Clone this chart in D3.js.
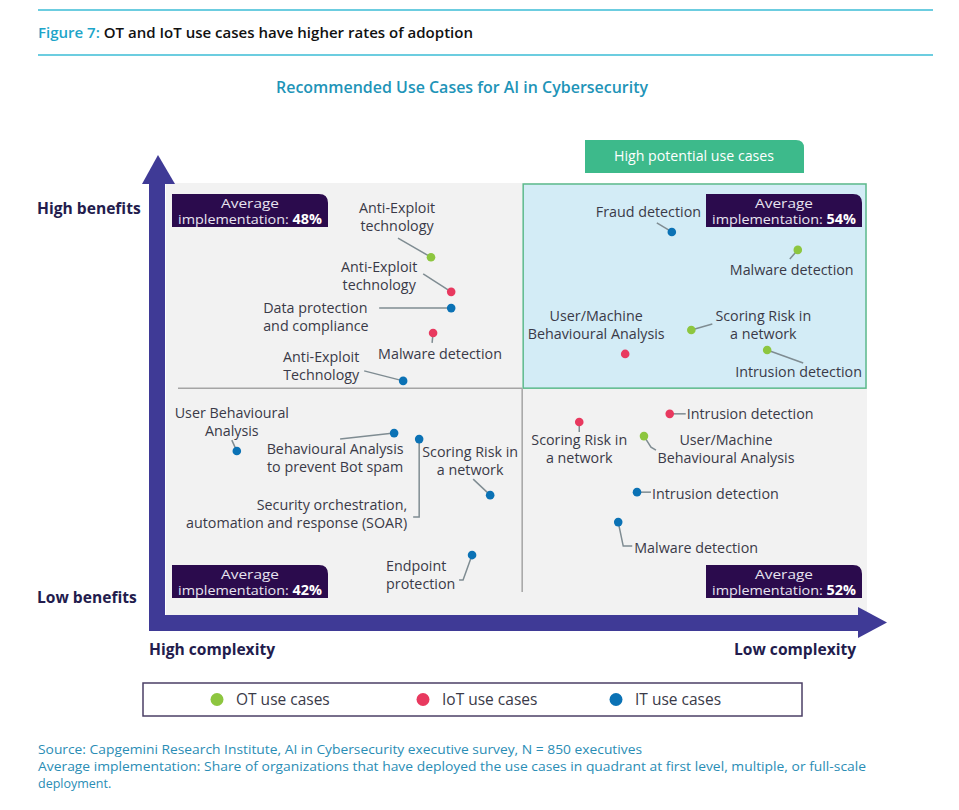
<!DOCTYPE html>
<html><head><meta charset="utf-8">
<script src="https://cdn.jsdelivr.net/npm/d3@7/dist/d3.min.js"></script>
<style>
html,body{margin:0;padding:0;background:#fff;}
svg{display:block;}
text{font-family:"Open Sans","Noto Sans",sans-serif;}
</style></head>
<body>
<svg id="chart" width="959" height="810"></svg>
<script>
// ---------- DATA ----------
const names = [
  "Anti-Exploit\ntechnology", "Anti-Exploit\ntechnology", "Data protection\nand compliance",
  "Malware detection", "Anti-Exploit\nTechnology",
  "Fraud detection", "Malware detection", "Scoring Risk in\na network",
  "User/Machine\nBehavioural Analysis", "Intrusion detection",
  "User Behavioural\nAnalysis", "Behavioural Analysis\nto prevent Bot spam",
  "Security orchestration,\nautomation and response (SOAR)", "Scoring Risk in\na network",
  "Endpoint\nprotection",
  "Intrusion detection", "Scoring Risk in\na network", "User/Machine\nBehavioural Analysis",
  "Intrusion detection", "Malware detection"
];
const types = ["OT","IoT","IT","IoT","IT", "IT","OT","OT","IoT","OT", "IT","IT","IT","IT","IT", "IoT","IoT","OT","IT","IT"];
// complexity axis: 0 = high complexity, 100 = low complexity
const complexity = [37.5,40.4,40.4,37.8,33.5, 72.1,90.2,74.9,65.4,85.8, 9.6,32.2,35.8,46.0,43.4, 71.8,58.8,68.1,67.1,64.4];
// benefits axis: 0 = low benefits, 100 = high benefits
const benefits   = [82.9,74.8,71.0,65.2,54.0, 88.8,84.6,65.9,60.3,61.2, 37.6,41.8,40.4,27.3,13.3, 46.3,44.4,41.1,28.0,21.0];
const quadrantNames = ["TL","TR","BL","BR"];
const quadrantAvg = [48, 54, 42, 52];
const legendKeys = ["OT","IoT","IT"];
const legendLabels = ["OT use cases","IoT use cases","IT use cases"];

// ---------- LAYOUT (annotation placement, not data) ----------
const labelLayout = [
  {a:"middle", dx:-34, dy:-44, lead:[[0,0],[-33,-19]]},
  {a:"middle", dx:-72, dy:-20, lead:[[0,0],[-28,-18]]},
  {a:"start",  dx:-188,dy:5,   lead:[[0,0],[-72,0]]},
  {a:"start",  dx:-55, dy:26,  lead:[[0,0],[-1,10]]},
  {a:"middle", dx:-82, dy:-19, lead:[[0,0],[-39,-10]]},
  {a:"start",  dx:-76, dy:-15, lead:[[0,0],[-15,-9]]},
  {a:"start",  dx:-68, dy:25,  lead:[[0,0],[-8,9]]},
  {a:"middle", dx:72,  dy:-9,  lead:[[0,0],[21,-6]]},
  {a:"middle", dx:-29, dy:-33, lead:null},
  {a:"start",  dx:-32, dy:27,  lead:[[0,0],[36,13]]},
  {a:"middle", dx:-5,  dy:-33, lead:[[0,0],[-5,-11]]},
  {a:"middle", dx:-59, dy:21,  lead:[[0,0],[-54,6]]},
  {a:"end",    dx:-12, dy:71,  lead:[[0,0],[0,78],[-6,78]]},
  {a:"middle", dx:-20, dy:-38, lead:[[0,0],[-17,-16]]},
  {a:"start",  dx:-86, dy:16,  lead:[[0,0],[-9,25],[-13,25]]},
  {a:"start",  dx:17,  dy:5,   lead:[[0,0],[16,0]]},
  {a:"middle", dx:0,   dy:23,  lead:[[0,0],[0,10]]},
  {a:"middle", dx:82,  dy:9,   lead:[[0,0],[7,11],[12,14]]},
  {a:"start",  dx:15,  dy:7,   lead:[[0,0],[14,0]]},
  {a:"start",  dx:16,  dy:31,  lead:[[0,0],[5,24],[14,24]]}
];

const color = d3.scaleOrdinal().domain(legendKeys).range(["#8dc63f","#e8395f","#0b72b5"]);
const purple = "#3f3a96";
const teal = "#1e94b8";

const svg = d3.select("#chart");
const x = d3.scaleLinear().domain([0,100]).range([170,866]);
const y = d3.scaleLinear().domain([0,100]).range([612,184]);
const xSplit = 50.6, ySplit = 52.3;

// header lines
svg.append("line").attr("x1",38).attr("x2",933).attr("y1",10).attr("y2",10).attr("stroke","#3bbdd6").attr("stroke-width",1.5);
svg.append("line").attr("x1",38).attr("x2",933).attr("y1",55).attr("y2",55).attr("stroke","#3bbdd6").attr("stroke-width",1.5);
const ft = svg.append("text").attr("x",38).attr("y",38).attr("font-size",14).attr("font-weight",600)
  .attr("textLength",435).attr("lengthAdjust","spacingAndGlyphs");
ft.append("tspan").attr("fill","#1da5c9").text("Figure 7: ");
ft.append("tspan").attr("fill","#111").text("OT and IoT use cases have higher rates of adoption");

svg.append("text").attr("x",462).attr("y",93).attr("text-anchor","middle").attr("font-size",15.5).attr("font-weight",600)
  .attr("fill",teal).attr("textLength",372).attr("lengthAdjust","spacingAndGlyphs")
  .text("Recommended Use Cases for AI in Cybersecurity");

// background
svg.append("rect").attr("x",166).attr("y",183).attr("width",701).attr("height",432).attr("fill","#f2f2f2");
// highlighted quadrant
svg.append("rect").attr("x",x(xSplit)+1).attr("y",y(100)).attr("width",x(100)-x(xSplit)-1).attr("height",y(ySplit)-y(100))
  .attr("fill","#d3ecf6").attr("stroke","#5cba8c").attr("stroke-width",1.5);
// dividers
svg.append("line").attr("x1",178).attr("x2",x(xSplit)).attr("y1",y(ySplit)).attr("y2",y(ySplit)).attr("stroke","#a5a5a5").attr("stroke-width",1.5);
svg.append("line").attr("x1",x(xSplit)).attr("x2",x(xSplit)).attr("y1",y(ySplit)).attr("y2",592).attr("stroke","#a5a5a5").attr("stroke-width",1.5);

// high potential tag
svg.append("path").attr("d",`M585,140 H796 Q804,140 804,148 V173 H585 Z`).attr("fill","#3dba8b");
svg.append("text").attr("x",694).attr("y",161).attr("text-anchor","middle").attr("fill","#fff").attr("font-size",14.2)
  .text("High potential use cases");

// arrows
svg.append("rect").attr("x",149).attr("y",180).attr("width",16).attr("height",451).attr("fill",purple);
svg.append("path").attr("d","M142,184 L158,155 L175,184 Z").attr("fill",purple);
svg.append("rect").attr("x",149).attr("y",615).attr("width",712).attr("height",16).attr("fill",purple);
svg.append("path").attr("d","M858,607 L887,622.5 L858,638 Z").attr("fill",purple);

// axis labels
const axisLab = [
  {t:"High benefits", x:37, y:214},
  {t:"Low benefits", x:37, y:603},
  {t:"High complexity", x:149, y:655},
  {t:"Low complexity", x:734, y:655}
];
svg.selectAll(".axlab").data(axisLab).join("text").attr("class","axlab")
  .attr("x",d=>d.x).attr("y",d=>d.y).attr("font-size",15.6).attr("font-weight",700).attr("fill","#231c4d").text(d=>d.t);

// average boxes
const boxPos = {TL:[172,194], TR:[706,194], BL:[172,565], BR:[706,565]};
quadrantNames.forEach((q,i)=>{
  const [bx,by] = boxPos[q];
  const w=156,h=33,r=9;
  svg.append("path").attr("d",`M${bx},${by} H${bx+w-r} Q${bx+w},${by} ${bx+w},${by+r} V${by+h} H${bx} Z`).attr("fill","#2b0b4d");
  const t = svg.append("text").attr("text-anchor","middle").attr("fill","#e8e4f0").attr("font-size",13.5);
  t.append("tspan").attr("x",bx+w/2).attr("y",by+13.5).attr("textLength",58).attr("lengthAdjust","spacingAndGlyphs").text("Average");
  const t2 = svg.append("text").attr("x",bx+w/2).attr("y",by+29.5).attr("text-anchor","middle").attr("fill","#e8e4f0").attr("font-size",13.5)
    .attr("textLength",144).attr("lengthAdjust","spacingAndGlyphs");
  t2.append("tspan").text("implementation: ");
  t2.append("tspan").attr("font-weight",700).attr("fill","#fff").text(quadrantAvg[i]+"%");
});

// points
const pts = names.map((n,i)=>({name:n,type:types[i],cx:x(complexity[i]),cy:y(benefits[i]),L:labelLayout[i]}));
const g = svg.append("g");
// leaders
g.selectAll(".lead").data(pts.filter(d=>d.L.lead)).join("path").attr("class","lead")
  .attr("d",d=>d3.line()(d.L.lead.map(p=>[d.cx+p[0],d.cy+p[1]])))
  .attr("fill","none").attr("stroke","#7f8c92").attr("stroke-width",1.5);
// dots
g.selectAll(".dot").data(pts).join("circle").attr("class","dot")
  .attr("cx",d=>d.cx).attr("cy",d=>d.cy).attr("r",4.3).attr("fill",d=>color(d.type));
// labels
g.selectAll(".lab").data(pts).join("text").attr("class","lab")
  .attr("text-anchor",d=>d.L.a).attr("font-size",14.3).attr("fill","#3a3a48")
  .each(function(d){
    const lines = d.name.split("\n");
    d3.select(this).selectAll("tspan").data(lines).join("tspan")
      .attr("x",d.cx+d.L.dx).attr("y",(l,j)=>d.cy+d.L.dy+j*18).text(l=>l);
  });

// legend
svg.append("rect").attr("x",143).attr("y",683).attr("width",659).attr("height",33).attr("fill","#fff").attr("stroke","#4b3f66").attr("stroke-width",1.5);
const legX = [217,423,616];
const lg = svg.selectAll(".leg").data(legendKeys).join("g").attr("class","leg").attr("transform",(d,i)=>`translate(${legX[i]},699.5)`);
lg.append("circle").attr("r",6.5).attr("fill",d=>color(d));
lg.append("text").attr("x",19).attr("y",5.5).attr("font-size",15.5).attr("fill","#3a3a48").text((d,i)=>legendLabels[i]);

// source
const src = [
  "Source: Capgemini Research Institute, AI in Cybersecurity executive survey, N = 850 executives",
  "Average implementation: Share of organizations that have deployed the use cases in quadrant at first level, multiple, or full-scale",
  "deployment."
];
const srcW = [604, 828, null];
svg.selectAll(".src").data(src).join("text").attr("class","src")
  .attr("x",38).attr("y",(d,i)=>754+i*17).attr("font-size",12.5).attr("fill","#2a8db5")
  .each(function(d,i){ if(srcW[i]) d3.select(this).attr("textLength",srcW[i]).attr("lengthAdjust","spacingAndGlyphs"); })
  .text(d=>d);
</script>
</body></html>
